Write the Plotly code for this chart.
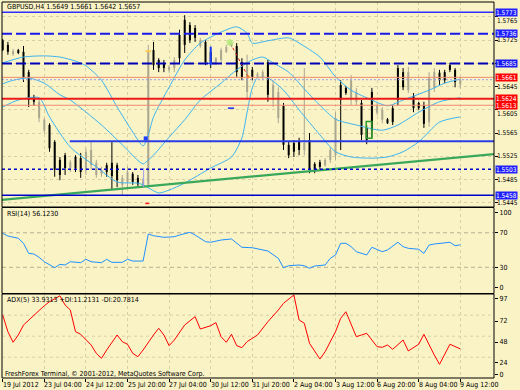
import plotly.graph_objects as go

# ---------------- data ----------------
symbol_header = "GBPUSD,H4 1.5649 1.5661 1.5642 1.5657"
rsi_header = "RSI(14) 56.1230"
adx_header = "ADX(5) 33.9313 +DI:11.2131 -DI:20.7814"
footer = "FreshForex Terminal, \u00a9 2001-2012, MetaQuotes Software Corp."

date_labels = ["19 Jul 2012", "23 Jul 04:00", "24 Jul 12:00", "25 Jul 20:00", "27 Jul 04:00",
               "30 Jul 12:00", "31 Jul 20:00", "2 Aug 04:00", "3 Aug 12:00", "6 Aug 20:00",
               "8 Aug 04:00", "9 Aug 12:00"]
date_bars = [0, 8, 16, 24, 32, 40, 48, 56, 64, 72, 80, 88]

opens = [1.5725, 1.5717, 1.5701, 1.5708, 1.5705, 1.5670, 1.5627, 1.5591, 1.5570, 1.5579,
         1.5550, 1.5519, 1.5527, 1.5505, 1.5524, 1.5522, 1.5502, 1.5510, 1.5493, 1.5495,
         1.5510, 1.5514, 1.5510, 1.5476, 1.5481, 1.5495, 1.5488, 1.5474, 1.5476, 1.5708,
         1.5691, 1.5686, 1.5674, 1.5677, 1.5734, 1.5760, 1.5751, 1.5746, 1.5715, 1.5722,
         1.5705, 1.5686, 1.5691, 1.5705, 1.5715, 1.5715, 1.5687, 1.5636, 1.5674, 1.5662,
         1.5660, 1.5687, 1.5622, 1.5591, 1.5612, 1.5545, 1.5548, 1.5550, 1.5536, 1.5553,
         1.5512, 1.5515, 1.5510, 1.5519, 1.5527, 1.5648, 1.5643, 1.5622, 1.5619, 1.5617,
         1.5574, 1.5636, 1.5600, 1.5588, 1.5589, 1.5608, 1.5677, 1.5670, 1.5639, 1.5629,
         1.5617, 1.5613, 1.5584, 1.5643, 1.5669, 1.5670, 1.5682, 1.5674, 1.5649]
highs = [1.5727, 1.5722, 1.5710, 1.5710, 1.5715, 1.5674, 1.5631, 1.5626, 1.5591, 1.5582,
         1.5553, 1.5524, 1.5531, 1.5519, 1.5527, 1.5531, 1.5539, 1.5551, 1.5519, 1.5507,
         1.5514, 1.5551, 1.5514, 1.5493, 1.5507, 1.5498, 1.5493, 1.5488, 1.5717, 1.5722,
         1.5694, 1.5691, 1.5682, 1.5696, 1.5743, 1.5768, 1.5756, 1.5751, 1.5729, 1.5725,
         1.5712, 1.5696, 1.5712, 1.5717, 1.5725, 1.5720, 1.5694, 1.5700, 1.5679, 1.5670,
         1.5674, 1.5691, 1.5656, 1.5644, 1.5617, 1.5550, 1.5553, 1.5557, 1.5677, 1.5565,
         1.5515, 1.5519, 1.5522, 1.5541, 1.5601, 1.5656, 1.5646, 1.5665, 1.5643, 1.5622,
         1.5579, 1.5643, 1.5617, 1.5610, 1.5591, 1.5613, 1.5682, 1.5677, 1.5679, 1.5634,
         1.5619, 1.5619, 1.5670, 1.5677, 1.5674, 1.5674, 1.5686, 1.5677, 1.5661]
lows = [1.5706, 1.5700, 1.5698, 1.5701, 1.5653, 1.5610, 1.5612, 1.5584, 1.5565, 1.5533,
        1.5490, 1.5484, 1.5493, 1.5498, 1.5498, 1.5488, 1.5493, 1.5502, 1.5488, 1.5490,
        1.5490, 1.5467, 1.5472, 1.5459, 1.5472, 1.5476, 1.5472, 1.5471, 1.5471, 1.5674,
        1.5670, 1.5670, 1.5669, 1.5670, 1.5686, 1.5703, 1.5720, 1.5722, 1.5712, 1.5682,
        1.5677, 1.5682, 1.5687, 1.5703, 1.5713, 1.5662, 1.5656, 1.5622, 1.5656, 1.5660,
        1.5656, 1.5619, 1.5610, 1.5582, 1.5536, 1.5522, 1.5524, 1.5527, 1.5527, 1.5496,
        1.5496, 1.5502, 1.5507, 1.5514, 1.5519, 1.5536, 1.5631, 1.5613, 1.5613, 1.5553,
        1.5546, 1.5557, 1.5596, 1.5582, 1.5581, 1.5579, 1.5613, 1.5639, 1.5634, 1.5601,
        1.5605, 1.5574, 1.5576, 1.5636, 1.5648, 1.5651, 1.5670, 1.5644, 1.5642]
closes = [1.5708, 1.5705, 1.5706, 1.5703, 1.5660, 1.5622, 1.5619, 1.5619, 1.5588, 1.5539,
          1.5502, 1.5493, 1.5505, 1.5515, 1.5505, 1.5498, 1.5533, 1.5536, 1.5514, 1.5502,
          1.5498, 1.5491, 1.5484, 1.5488, 1.5498, 1.5481, 1.5477, 1.5484, 1.5708, 1.5682,
          1.5677, 1.5677, 1.5679, 1.5691, 1.5694, 1.5717, 1.5725, 1.5729, 1.5725, 1.5687,
          1.5686, 1.5694, 1.5708, 1.5713, 1.5722, 1.5670, 1.5660, 1.5687, 1.5662, 1.5667,
          1.5670, 1.5631, 1.5648, 1.5636, 1.5545, 1.5527, 1.5533, 1.5536, 1.5548, 1.5502,
          1.5502, 1.5507, 1.5519, 1.5536, 1.5591, 1.5622, 1.5634, 1.5656, 1.5636, 1.5562,
          1.5553, 1.5570, 1.5612, 1.5605, 1.5582, 1.5584, 1.5622, 1.5644, 1.5670, 1.5608,
          1.5608, 1.5581, 1.5660, 1.5670, 1.5656, 1.5656, 1.5674, 1.5653, 1.5657]

bb_up_idx = [0, 4, 8, 11, 14, 16, 19, 22, 25, 27, 28, 29, 32, 35, 38, 42, 45, 47, 48, 51,
             55, 57, 61, 64, 67, 71, 74, 77, 82, 85, 88]
bb_up = [1.5686, 1.5696, 1.5698, 1.5696, 1.5689, 1.5681, 1.5656, 1.5610, 1.5567, 1.5543,
         1.5562, 1.5593, 1.5644, 1.5691, 1.5720, 1.5739, 1.5748, 1.5737, 1.5720, 1.5724,
         1.5729, 1.5720, 1.5696, 1.5662, 1.5639, 1.5622, 1.5612, 1.5622, 1.5639, 1.5651, 1.5658]
bb_mid_idx = [0, 2, 5, 8, 11, 13, 19, 23, 27, 28, 29, 32, 35, 38, 42, 45, 48, 50, 52, 55,
              58, 61, 64, 68, 73, 76, 80, 84, 88]
bb_mid = [1.5650, 1.5656, 1.5660, 1.5651, 1.5631, 1.5622, 1.5579, 1.5545, 1.5512, 1.5519,
          1.5527, 1.5558, 1.5588, 1.5622, 1.5651, 1.5674, 1.5691, 1.5696, 1.5686, 1.5670,
          1.5641, 1.5613, 1.5589, 1.5579, 1.5570, 1.5579, 1.5601, 1.5619, 1.5626]
bb_low_idx = [0, 3, 7, 9, 13, 18, 22, 26, 27, 28, 30, 32, 35, 40, 44, 46, 47, 48, 49, 51,
              54, 57, 61, 64, 67, 71, 74, 77, 80, 84, 88]
bb_low = [1.5610, 1.5622, 1.5626, 1.5593, 1.5541, 1.5507, 1.5481, 1.5479, 1.5476, 1.5471,
          1.5462, 1.5467, 1.5479, 1.5505, 1.5524, 1.5557, 1.5601, 1.5643, 1.5660, 1.5660,
          1.5639, 1.5605, 1.5562, 1.5533, 1.5524, 1.5522, 1.5524, 1.5533, 1.5550, 1.5584, 1.5593]

rsi_idx = [0, 1, 3, 4, 5, 6, 7, 8, 10, 11, 12, 13, 15, 16, 17, 19, 20, 21, 23, 24,
           25, 27, 28, 29, 31, 33, 34, 36, 37, 39, 40, 42, 44, 46, 48, 49, 51, 53, 54, 55,
           57, 58, 59, 60, 62, 63, 64, 65, 66, 67, 68, 70, 71, 73, 74, 76, 77, 78, 80, 81,
           82, 83, 84, 86, 87, 88]
rsi_val = [69.4, 66.2, 63.6, 57.8, 46.2, 45.4, 41.6, 36.5, 29.6, 33.5, 32.7, 36.5, 35.4, 39.3,
           36.5, 35.4, 39.3, 35.8, 35.8, 39.3, 37.3, 37.3, 68.6, 66.6, 64.7, 65.4, 67.4, 70.5,
           67.4, 59.7, 59.0, 61.6, 62.8, 53.2, 52.7, 51.2, 48.9, 40.5, 29.6, 31.9, 32.7, 31.9,
           28.9, 31.6, 32.7, 40.5, 44.3, 57.8, 57.8, 53.9, 48.1, 44.3, 53.2, 48.1, 50.1, 59.0,
           53.9, 52.0, 50.9, 46.2, 55.8, 57.0, 57.8, 59.0, 55.0, 56.1]
rsi_levels = [70, 30]
rsi_tick_text = ["100", "70", "30", "0"]
rsi_tick_pos = [93.6, 70, 30, 6.5]

adx_idx = [0, 1, 2, 3, 4, 6, 8, 9, 11, 12, 13, 14, 15, 17, 18, 19, 20, 22, 23, 24,
           25, 26, 27, 29, 30, 31, 32, 33, 35, 37, 38, 40, 41, 42, 43, 44, 45, 46, 47, 49,
           51, 53, 54, 56, 57, 58, 59, 61, 62, 64, 65, 66, 68, 69, 70, 72, 73, 74, 75, 77,
           78, 80, 81, 83, 84, 86, 88]
adx_val = [72.9, 53.7, 41.5, 49.9, 61.4, 72.9, 83.6, 88.2, 95.0, 84.4, 78.7, 53.7, 50.7, 38.4,
           28.8, 23.0, 32.6, 49.9, 42.2, 39.2, 28.8, 24.9, 32.6, 49.9, 57.6, 49.9, 37.6, 44.1,
           61.4, 71.0, 56.8, 60.6, 64.1, 47.9, 41.5, 50.7, 37.6, 35.3, 42.2, 49.9, 65.2, 78.7,
           86.4, 96.0, 67.2, 63.4, 40.3, 22.2, 30.6, 53.7, 69.1, 76.7, 47.9, 49.9, 51.8, 36.4,
           35.7, 38.4, 33.4, 44.1, 31.5, 39.2, 50.7, 26.8, 16.1, 39.2, 33.9]
adx_grid = [24.25, 48.5, 72.75]
adx_tick_text = ["97", "72", "48", "24", "0"]
adx_tick_pos = [91.7, 66.0, 41.8, 18.4, 4.6]

price_ticks = [1.5765, 1.5725, 1.5685, 1.5645, 1.5605, 1.5565, 1.5525, 1.5485, 1.5445]
price_tick_text = ["1.5765", "1.5725", "", "1.5645", "1.5605", "1.5565", "1.5525", "1.5485", "1.5445"]
price_tick_nudge = [-4, 0, 0, 0, -4, 0, 0, 0, 0]  # px shift so labels clear the boxes

level_prices = [1.5773, 1.5736, 1.5685, 1.5661, 1.5624, 1.5613, 1.5503, 1.5458]
bid_price = 1.5657
support_price = 1.5551
support_start = 12.9
trend_idx = [-0.5, 94.5]
trend_price = [1.5450, 1.5529]

arrow_pt = (27.5, 1.5556)
vline_obj = ([27.1, 27.1], [1.5505, 1.5472])
red_dash = ([27.4, 28.2], [1.5444, 1.5444])
blue_dash = ([43.3, 44.5], [1.5608, 1.5608])
trade_line = ([43.7, 47.2], [1.5721, 1.5662])
blue_cross_v = ([40, 40], [1.5714, 1.5682])
blue_cross_h = ([39.2, 40.9], [1.5685, 1.5685])
green_box = ([69.9, 71.0, 71.0, 69.9, 69.9], [1.5556, 1.5556, 1.5585, 1.5585, 1.5556])
orange_mark = (28, 1.5706)

# ---------------- figure ----------------
FONT = "Liberation Sans Narrow, DejaVu Sans Condensed, Liberation Sans, sans-serif"
BG = "#faf3c6"
BULL = "#aaa690"
BEAR = "#000000"
BAND = "#3cb4f0"

fig = go.Figure()

segs = {True: ([], [], [], []), False: ([], [], [], [])}
for i, (o, h, l, c) in enumerate(zip(opens, highs, lows, closes)):
    wx, wy, bx, by = segs[c >= o]
    wx += [i, i, None]
    wy += [l, h, None]
    bx += [i, i, None]
    by += [o, c, None]

for up, col in ((True, BULL), (False, BEAR)):
    wx, wy, bx, by = segs[up]
    fig.add_trace(go.Scatter(x=wx, y=wy, mode="lines", line=dict(color=col, width=1),
                             hoverinfo="skip", showlegend=False))
    fig.add_trace(go.Scatter(x=bx, y=by, mode="lines", line=dict(color=col, width=2),
                             hoverinfo="skip", showlegend=False))

for xs, ys in ((bb_up_idx, bb_up), (bb_mid_idx, bb_mid), (bb_low_idx, bb_low)):
    fig.add_trace(go.Scatter(x=xs, y=ys, mode="lines",
                             line=dict(color=BAND, width=1, shape="spline", smoothing=0.7),
                             hoverinfo="skip", showlegend=False))

fig.add_trace(go.Scatter(x=trend_idx, y=trend_price, mode="lines",
                         line=dict(color="#3aa85a", width=2.2), showlegend=False, hoverinfo="skip"))
fig.add_trace(go.Scatter(x=[support_start, 94.6], y=[support_price, support_price], mode="lines",
                         line=dict(color="#2a3ce6", width=2), showlegend=False, hoverinfo="skip"))

obj = dict(mode="lines", showlegend=False, hoverinfo="skip")
fig.add_trace(go.Scatter(x=vline_obj[0], y=vline_obj[1], line=dict(color="#9f9ff0", width=1), **obj))
fig.add_trace(go.Scatter(x=red_dash[0], y=red_dash[1], line=dict(color="#ff2020", width=1.5), **obj))
fig.add_trace(go.Scatter(x=blue_dash[0], y=blue_dash[1], line=dict(color="#1a2cff", width=1.5), **obj))
fig.add_trace(go.Scatter(x=trade_line[0], y=trade_line[1], line=dict(color="#e02020", width=1, dash="dot"), **obj))
fig.add_trace(go.Scatter(x=blue_cross_v[0], y=blue_cross_v[1], line=dict(color="#1a3cff", width=2), **obj))
fig.add_trace(go.Scatter(x=blue_cross_h[0], y=blue_cross_h[1], line=dict(color="#1a3cff", width=1.5), **obj))
fig.add_trace(go.Scatter(x=green_box[0], y=green_box[1], line=dict(color="#2a9a2a", width=1.5), **obj))
fig.add_trace(go.Scatter(x=[arrow_pt[0]], y=[arrow_pt[1]], mode="markers",
                         marker=dict(symbol="square", size=4, color="#2040ff"),
                         showlegend=False, hoverinfo="skip"))
fig.add_trace(go.Scatter(x=[trade_line[0][0]], y=[trade_line[1][0]], mode="markers",
                         marker=dict(symbol="asterisk-open", size=6, line=dict(color="#ff1010", width=1.5)),
                         showlegend=False, hoverinfo="skip"))
fig.add_trace(go.Scatter(x=[trade_line[0][1]], y=[trade_line[1][1]], mode="markers",
                         marker=dict(symbol="circle", size=3, color="#f08020"),
                         showlegend=False, hoverinfo="skip"))
fig.add_trace(go.Scatter(x=[orange_mark[0]], y=[orange_mark[1]], mode="markers",
                         marker=dict(symbol="line-ew-open", size=4, line=dict(color="#e09030", width=2)),
                         showlegend=False, hoverinfo="skip"))

fig.add_trace(go.Scatter(x=rsi_idx, y=rsi_val, mode="lines", yaxis="y2",
                         line=dict(color="#1e90ff", width=1), showlegend=False, hoverinfo="skip"))
fig.add_trace(go.Scatter(x=adx_idx, y=adx_val, mode="lines", yaxis="y3",
                         line=dict(color="#ff0000", width=1), showlegend=False, hoverinfo="skip"))

# ---------------- layout ----------------
W, H = 520, 390
ML, MR, MT, MB = 2, 26, 2, 12
PH = H - MT - MB


def py(px):
    return (H - MB - px) / PH


main_dom = [py(207), 1.0]
rsi_dom = [py(293.5), py(207.5)]
adx_dom = [0.0, py(294)]

GRID = "#d9d0a6"
tickfont = dict(family=FONT, size=7, color="#000000")

fig.update_layout(
    width=W, height=H,
    margin=dict(l=ML, r=MR, t=MT, b=MB),
    paper_bgcolor=BG, plot_bgcolor=BG,
    showlegend=False,
    xaxis=dict(range=[-0.135, 94.48], anchor="y3", tickvals=date_bars, showticklabels=False,
               ticks="outside", ticklen=3, tickcolor="#000000", showgrid=True, gridcolor=GRID,
               griddash="dot", gridwidth=1, zeroline=False, showline=False, fixedrange=True),
    yaxis=dict(domain=main_dom, range=[1.543788, 1.579073], side="right", tickvals=price_ticks,
               showticklabels=False, ticks="outside", ticklen=3,
               tickcolor="#000000", showgrid=True, gridcolor=GRID, griddash="dot",
               zeroline=False, showline=False),
    yaxis2=dict(domain=rsi_dom, range=[-0.23, 99.2], side="right", anchor="x", tickvals=rsi_tick_pos,
                ticktext=rsi_tick_text, tickfont=tickfont, ticks="outside", ticklen=3,
                tickcolor="#000000", showgrid=False, zeroline=False, showline=False),
    yaxis3=dict(domain=adx_dom, range=[0.35, 97.1], side="right", anchor="x", tickvals=adx_tick_pos,
                ticktext=adx_tick_text, tickfont=tickfont, ticks="outside", ticklen=3,
                tickcolor="#000000", showgrid=False, zeroline=False, showline=False),
)

shapes = []
level_styles = [
    dict(color="#2e2eff", width=1.5),
    dict(color="#1a1ae8", width=2, dash="10px,4px"),
    dict(color="#0000b8", width=2, dash="10px,4px"),
    dict(color="#f08a70", width=1),
    dict(color="#ee1a1a", width=2),
    dict(color="#f08a70", width=1),
    dict(color="#0000cc", width=1.5, dash="3px,3px"),
    dict(color="#0000cc", width=1.5),
]
for p, st in zip(level_prices, level_styles):
    shapes.append(dict(type="line", xref="paper", x0=0, x1=1, yref="y", y0=p, y1=p, line=st, layer="above"))
shapes.append(dict(type="line", xref="paper", x0=0, x1=1, yref="y", y0=bid_price, y1=bid_price,
                   line=dict(color="#9a9ae0", width=1, dash="2px,2px"), layer="above"))
for lv in rsi_levels:
    shapes.append(dict(type="line", xref="paper", x0=0, x1=1, yref="y2", y0=lv, y1=lv,
                       line=dict(color="#b9b193", width=1, dash="4px,3px"), layer="below"))
for lv in adx_grid:
    shapes.append(dict(type="line", xref="paper", x0=0, x1=1, yref="y3", y0=lv, y1=lv,
                       line=dict(color=GRID, width=1, dash="dot"), layer="below"))
for dom in (main_dom, rsi_dom, adx_dom):
    shapes.append(dict(type="rect", xref="paper", yref="paper", x0=0, x1=1, y0=dom[0], y1=dom[1],
                       line=dict(color="#000000", width=1), fillcolor="rgba(0,0,0,0)", layer="above"))
fig.update_layout(shapes=shapes)

ann = []
txt = dict(family=FONT, size=7, color="#000000")
ann.append(dict(xref="paper", yref="paper", x=0.006, y=py(7), xanchor="left", yanchor="middle",
                text=symbol_header, showarrow=False, font=txt))
ann.append(dict(xref="paper", yref="paper", x=0.006, y=py(214), xanchor="left", yanchor="middle",
                text=rsi_header, showarrow=False, font=txt))
ann.append(dict(xref="paper", yref="paper", x=0.006, y=py(300), xanchor="left", yanchor="middle",
                text=adx_header, showarrow=False, font=txt))
ann.append(dict(xref="paper", yref="paper", x=0.002, y=py(374), xanchor="left", yanchor="middle",
                text=footer, showarrow=False, font=txt))
for b, lab in zip(date_bars, date_labels):
    ann.append(dict(xref="x", yref="paper", x=b, y=0, xanchor="left", yanchor="top", xshift=-2,
                    yshift=-1, text=lab, showarrow=False, font=txt))

# price tick labels (right scale)
for p, lab, nd in zip(price_ticks, price_tick_text, price_tick_nudge):
    if lab:
        ann.append(dict(xref="paper", yref="y", x=1, y=p, xanchor="left", yanchor="middle",
                        xshift=2, yshift=nd, text=lab, showarrow=False, borderpad=0,
                        font=dict(family=FONT, size=6.5, color="#000000")))

box_colors = ["#2020ff", "#2020ff", "#1818f0", "#ff0000", "#ff0000", "#ff0000", "#2020ff", "#2020ff"]
for p, bc in zip(level_prices, box_colors):
    ann.append(dict(xref="paper", yref="y", x=1, y=p, xanchor="left", yanchor="middle", xshift=1,
                    text="%.4f" % p, showarrow=False, bgcolor=bc, borderpad=0, height=7,
                    valign="middle", font=dict(family=FONT, size=6.5, color="#ffffff")))
fig.update_layout(annotations=ann)

fig.write_html("out.html", config={"displayModeBar": False},
               post_script="document.body.style.margin='0';document.body.style.padding='0';")
